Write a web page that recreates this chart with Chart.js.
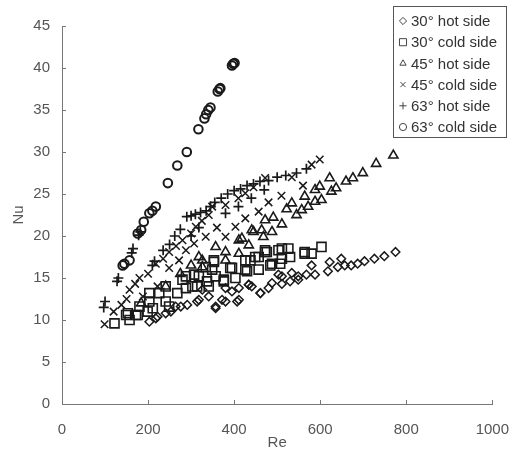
<!DOCTYPE html>
<html>
<head>
<meta charset="utf-8">
<script src="https://cdn.jsdelivr.net/npm/chart.js@4/dist/chart.umd.min.js"></script>
<style>
html,body{margin:0;padding:0;background:#fff;}
#wrap{width:526px;height:452px;position:relative;}
</style>
</head>
<body>
<div id="wrap"><canvas id="c" width="526" height="452"></canvas></div>
<script>
// ---- data ----
const seriesLabels = ["30° hot side","30° cold side","45° hot side","45° cold side","63° hot side","63° cold side"];

const re30Hot = [203,218,222,241,253,264,276,291,314,318,326,341,357,357,372,380,380,395,407,411,411,434,434,441,461,461,480,488,503,511,511,530,534,549,549,568,580,588,618,622,641,649,657,672,687,703,726,749,775];
const nu30Hot = [9.8,10.2,10.4,10.8,11,11.6,11.6,11.8,12.2,12.4,13.6,12.8,11.6,11.4,12.4,13.8,12.2,13.4,12.2,13.8,12.4,14.2,14.2,14,13.2,13.2,13.8,14.4,15.4,14.3,15.2,14.6,15.6,14.8,15.2,15.4,16.5,15.4,15.8,16.9,16.3,17.3,16.5,16.5,16.7,17,17.3,17.6,18.1];

const re30Cold = [122,149,153,157,172,176,180,199,203,203,211,226,241,241,249,268,280,288,288,303,307,314,318,334,337,341,349,353,353,357,376,376,391,395,403,426,426,430,438,449,457,457,472,472,476,484,488,503,507,511,511,526,530,564,564,580,603];
const nu30Cold = [9.6,10.6,10.8,10,10.6,10.6,11.6,11,12.2,13.2,11.4,13.2,12.2,14,11.6,13.2,14.8,13.8,15.2,14,15.4,14,15.2,16.3,14.6,14,16,16.9,17.1,15.2,14.6,14.8,16.2,16.2,15,17.1,16,15.8,17.1,17.5,17.5,16,18.1,18.3,18.1,16.5,16.7,18.3,16.7,17.3,18.5,18.5,17.5,18.1,17.9,17.9,18.7];

const re45Hot = [184,241,275,300,318,326,326,357,380,380,411,411,418,434,441,445,464,468,472,488,491,511,522,534,545,557,564,572,588,588,599,603,622,626,637,660,676,699,730,770];
const nu45Hot = [12,14,15.5,16.5,17.5,17.1,16.3,18.7,18.1,17.1,17.9,19.5,19.7,18.9,20.7,20.5,20.7,19.9,21.9,20.5,22.2,21.4,23.2,23.9,22.5,23.1,24.7,23.5,25.5,24.1,25.9,24.3,26.9,25.3,25.7,26.5,26.9,27.5,28.6,29.6];

const re45Cold = [99,120,138,150,157,170,180,188,200,218,222,235,249,249,265,272,280,288,300,307,311,325,334,341,349,360,380,380,403,410,426,426,445,457,472,480,510,534,560,580,599];
const nu45Cold = [9.5,11,11.8,12.5,13.6,14.3,15,12.8,15.5,16.7,14,17.3,18.1,16.2,18.8,17.1,19.5,18.3,20.3,19.1,21.1,21.8,19.9,22.5,23.5,21,23.7,19.9,21.1,24.5,25.1,22.1,25.8,22.9,26.9,24,24.8,27,26,28.5,29.1];

const re63Hot = [97,100,128,131,162,165,178,182,210,215,235,250,262,275,290,300,300,310,318,322,335,345,355,370,380,385,400,410,415,430,440,445,460,470,480,500,520,545,568];
const nu63Hot = [11.5,12.2,14.6,15,18,18.5,20.1,20.5,16.5,17,18.3,19,20,20.8,22.3,22.4,20,22.6,21,22.8,23,23.5,24,24.5,22.7,25,25.4,23.5,25.6,26,24.5,26.2,26.5,25.5,26.6,27,27.2,27.5,28];

const re63Cold = [141,145,157,176,184,190,203,210,218,246,268,290,317,331,335,340,345,362,366,368,395,398,401];
const nu63Cold = [16.5,16.7,17.1,20.3,20.7,21.7,22.7,23,23.5,26.3,28.4,30,32.7,34,34.5,35,35.3,37.2,37.5,37.6,40.3,40.5,40.6];

const xTicks = [0,200,400,600,800,1000];
const yTicks = [0,5,10,15,20,25,30,35,40,45];
// -------------------------------------

function pts(xs, ys){ return xs.map((x,i)=>({x:x, y:ys[i]})); }

const INK = '#1a1a1a';
const styles = [
  {pointStyle:'rectRot', radius:4.3, bw:1.5},
  {pointStyle:'rect', radius:6.4, bw:1.6},
  {pointStyle:'triangle', radius:5.3, bw:1.6},
  {pointStyle:'crossRot', radius:5.3, bw:1.5},
  {pointStyle:'cross', radius:5, bw:1.7},
  {pointStyle:'circle', radius:4.3, bw:2}
];
const datas = [pts(re30Hot,nu30Hot),pts(re30Cold,nu30Cold),pts(re45Hot,nu45Hot),pts(re45Cold,nu45Cold),pts(re63Hot,nu63Hot),pts(re63Cold,nu63Cold)];

const datasets = datas.map((d,i)=>({
  label: seriesLabels[i],
  data: d,
  pointStyle: styles[i].pointStyle,
  pointRadius: styles[i].radius,
  pointHoverRadius: styles[i].radius,
  pointBorderWidth: styles[i].bw,
  borderColor: INK,
  backgroundColor: 'rgba(0,0,0,0)',
  showLine: false
}));

const FONT = "'Liberation Sans', Arial, Helvetica, sans-serif";

const innerTicks = {
  id: 'innerTicks',
  afterDraw(chart){
    const ctx = chart.ctx;
    const xs = chart.scales.x, ys = chart.scales.y;
    const area = chart.chartArea;
    ctx.save();
    ctx.strokeStyle = '#777';
    ctx.lineWidth = 1;
    ctx.beginPath();
    xTicks.forEach(v=>{
      const px = Math.round(xs.getPixelForValue(v)) + 0.5;
      ctx.moveTo(px, area.bottom); ctx.lineTo(px, area.bottom - 4);
    });
    yTicks.forEach(v=>{
      const py = Math.round(ys.getPixelForValue(v)) + 0.5;
      ctx.moveTo(area.left, py); ctx.lineTo(area.left + 4, py);
    });
    ctx.stroke();
    ctx.restore();
  }
};

const boxLegend = {
  id: 'boxLegend',
  afterDraw(chart){
    const ctx = chart.ctx;
    const left = 393, top = 6, w = 113, h = 131;
    ctx.save();
    ctx.fillStyle = '#fff';
    ctx.fillRect(left, top, w, h);
    ctx.strokeStyle = '#555';
    ctx.lineWidth = 1;
    ctx.strokeRect(left + 0.5, top + 0.5, w, h);
    ctx.font = "15px " + FONT;
    ctx.textBaseline = 'middle';
    ctx.textAlign = 'left';
    seriesLabels.forEach((lab, i)=>{
      const cy = 21 + i * 21.2;
      ctx.strokeStyle = '#444';
      ctx.fillStyle = 'rgba(0,0,0,0)';
      ctx.lineWidth = 1;
      const r = styles[i].pointStyle === 'rect' ? 5 : 3.6;
      Chart.helpers.drawPoint(ctx, {pointStyle: styles[i].pointStyle, radius: r, borderWidth: 1}, 403, cy);
      ctx.fillStyle = '#333';
      ctx.fillText(lab, 411, cy + 1);
    });
    ctx.restore();
  }
};

new Chart(document.getElementById('c'), {
  type: 'scatter',
  data: { datasets },
  options: {
    responsive: false,
    animation: false,
    events: [],
    layout: { padding: { top: 26, right: 30, left: 0, bottom: 0 } },
    plugins: { legend: { display: false }, tooltip: { enabled: false } },
    scales: {
      x: {
        type: 'linear', min: 0, max: 1000,
        afterBuildTicks(s){ s.ticks = xTicks.map(v=>({value:v})); },
        afterFit(s){ s.height = 48; },
        grid: { display: false, drawTicks: false },
        border: { display: true, color: '#777', width: 1 },
        ticks: { padding: 17, color: '#555', font: { family: FONT, size: 15 }, maxRotation: 0, callback: v => String(v) },
        title: { display: true, text: 'Re', color: '#555', font: { family: FONT, size: 15 }, padding: { top: 0, bottom: 0 } }
      },
      y: {
        type: 'linear', min: 0, max: 45,
        afterBuildTicks(s){ s.ticks = yTicks.map(v=>({value:v})); },
        afterFit(s){ s.width = 62; },
        grid: { display: false, drawTicks: false },
        border: { display: true, color: '#777', width: 1 },
        ticks: { padding: 12, color: '#555', font: { family: FONT, size: 15 }, callback: v => String(v) },
        title: { display: true, text: 'Nu', color: '#555', font: { family: FONT, size: 15 }, padding: { top: 10, bottom: 0 } }
      }
    }
  },
  plugins: [innerTicks, boxLegend]
});
</script>
</body>
</html>
